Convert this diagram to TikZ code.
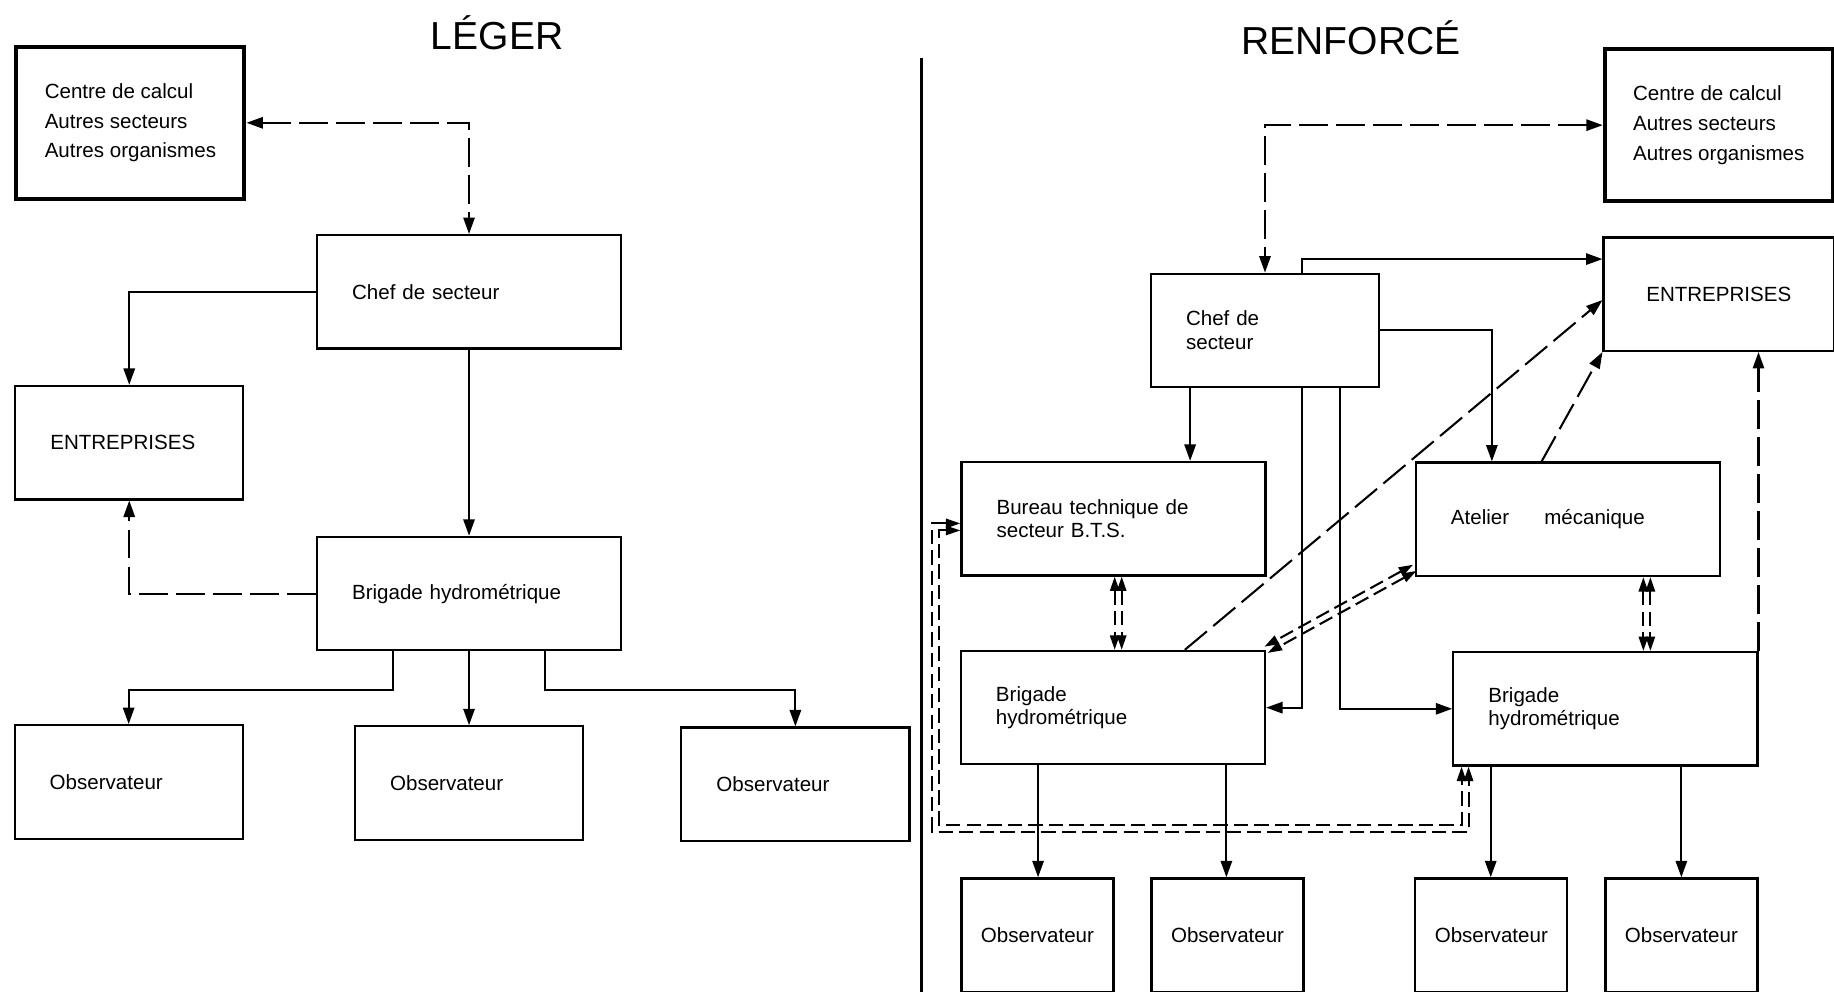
\documentclass[tikz,border=0pt]{standalone}
\usepackage{fontspec}
\setmainfont{Liberation Sans}
\usepackage{tikz}
\usetikzlibrary{positioning, arrows.meta, calc}

\begin{document}
\begin{tikzpicture}[
  x=0.02cm, y=-0.02cm,
  box/.style={
    rectangle, draw, line width=1.1pt, inner sep=0pt,
    font=\fontsize{10}{11.5}\selectfont
  },
  unit/.style={box, minimum width=5.2cm, minimum height=1.94cm, text width=4cm, align=left},
  side/.style={box, minimum width=3.9cm, minimum height=1.94cm, text width=2.7cm, align=left},
  hub/.style={box, line width=2pt, minimum width=3.9cm, minimum height=2.6cm,
    align=left, font=\fontsize{10}{14.5}\selectfont},
  obs/.style={box, minimum width=2.6cm, minimum height=1.94cm},
  title/.style={font=\fontsize{19}{21}\selectfont},
  arr/.style={-{Triangle[length=8pt,width=5.5pt]}, line width=1pt},
  twoway/.style={{Triangle[length=8pt,width=5.5pt]}-{Triangle[length=8pt,width=5.5pt]}, line width=1pt},
  broken/.style={dash pattern=on 14pt off 4pt},
  rail/.style={{Triangle[length=7pt,width=4.5pt]}-{Triangle[length=7pt,width=4.5pt]},
    line width=1pt, dash pattern=on 7pt off 3pt},
]
\useasboundingbox (0,0) rectangle (1568,848);

% LEGER
\node[title] (leger) at (425,28) {LÉGER};
\node[hub] (lcentre) at (111.5,105) {Centre de calcul\\Autres secteurs\\Autres organismes};
\node[unit] (lchef) at (401,249.5) {Chef de secteur};
\node[side] (lent) at (110.5,378.5) {ENTREPRISES};
\node[unit] (lbrig) at (401,507.5) {Brigade hydrométrique};
\node[side] (lobs1) at (110,668.5) {Observateur};
\node[side] (lobs2) at (401,669.5) {Observateur};
\node[side] (lobs3) at (680,670.5) {Observateur};

\draw[twoway, broken] (lcentre.east) -| (lchef.north);
\draw[arr] (lchef.west) -| (lent.north);
\draw[arr] (lchef.south) -- (lbrig.north);
\draw[arr, broken] (lbrig.west) -| (lent.south);
\draw[arr] ($(lbrig.south)+(-65,0)$) -- ++(0,33) -| (lobs1.north);
\draw[arr] (lbrig.south) -- (lobs2.north);
\draw[arr] ($(lbrig.south)+(65,0)$) -- ++(0,33) -| (lobs3.north);

% separation
\draw[line width=1.4pt] (788,50) -- (788,848);

% RENFORCE
\node[title] (renforce) at (1155,32) {RENFORCÉ};
\node[hub] (rcentre) at (1469.5,107) {Centre de calcul\\Autres secteurs\\Autres organismes};
\node[box, minimum width=3.94cm, minimum height=1.94cm] (rent) at (1469.5,251.5) {ENTREPRISES};
\node[box, minimum width=3.9cm, minimum height=1.94cm, text width=2.7cm, align=left] (rchef) at (1081.5,282.5) {Chef de\\secteur};
\node[unit] (rbts) at (952,443.5) {Bureau technique de\\secteur B.T.S.};
\node[unit] (ratel) at (1340.5,444) {Atelier\hspace{0.6cm}mécanique};
\node[unit] (rbrigL) at (951.5,605) {Brigade\\hydrométrique};
\node[unit] (rbrigR) at (1372.5,606) {Brigade\\hydrométrique};
\node[obs] (robs1) at (887,799.5) {Observateur};
\node[obs] (robs2) at (1049.5,799.5) {Observateur};
\node[obs] (robs3) at (1275,799.5) {Observateur};
\node[obs] (robs4) at (1437.5,799.5) {Observateur};

\draw[twoway, broken] (rcentre.west) -| (rchef.north);
\draw[arr] ($(rchef.north)+(32,0)$) |- ($(rent.west)+(0,-30)$);
\draw[arr] (rchef.east) -| ($(ratel.north)+(-65,0)$);
\draw[arr] ($(rchef.south)+(-64,0)$) coordinate (c1) -- (c1 |- rbts.north);
\draw[arr] ($(rchef.south)+(32,0)$) |- (rbrigL.east);
\draw[arr] ($(rchef.south)+(64.5,0)$) |- (rbrigR.west);
\draw[arr, broken] ($(rbrigL.north)+(61.5,0)$) -- ($(rent.west)+(0,5)$);
\draw[arr, broken] ($(ratel.north)+(-22.5,0)$) -- (rent.south west);
\draw[arr, broken] (rbrigR.north east) -- (rbrigR.north east |- rent.south);
\draw[arr] ($(rbrigL.south)+(-64,0)$) coordinate (c2) -- (c2 |- robs1.north);
\draw[arr] ($(rbrigL.south)+(97,0)$) coordinate (c3) -- (c3 |- robs2.north);
\draw[arr] ($(rbrigR.south)+(-98,0)$) coordinate (c4) -- (c4 |- robs3.north);
\draw[arr] ($(rbrigR.south)+(65,0)$) coordinate (c5) -- (c5 |- robs4.north);

% double liaisons
\foreach \s in {-3,3} {
  \draw[rail] ($(rbts.south)+(4+\s,0)$) coordinate (d1) -- (d1 |- rbrigL.north);
  \draw[rail] ($(ratel.south)+(67.5+\s,0)$) coordinate (d2) -- (d2 |- rbrigR.north);
  \draw[rail] ($(ratel.south west)+(0,-8)+(0.48*\s,0.88*\s)$) -- ($(rbrigL.north east)+(0.48*\s,0.88*\s)$);
}
\coordinate (loopout) at (797,711);
\coordinate (loopin) at (803,705);
\draw[rail] ($(rbts.west)+(0,4)$) -| (loopout) -| ($(rbrigR.south west)+(14,0)$);
\draw[rail] ($(rbts.west)+(0,10)$) -| (loopin) -| ($(rbrigR.south west)+(8,0)$);

\end{tikzpicture}
\end{document}
